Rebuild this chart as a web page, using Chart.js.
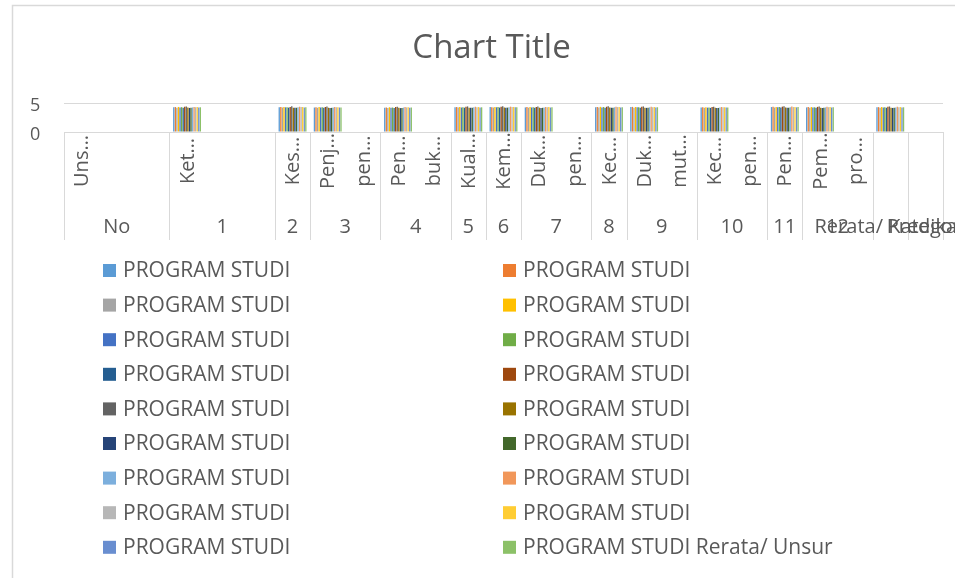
<!DOCTYPE html>
<html>
<head>
<meta charset="utf-8">
<script src="https://cdn.jsdelivr.net/npm/chart.js@4.4.1/dist/chart.umd.min.js"></script>
<style>
  html, body { margin: 0; padding: 0; background: #fff; }
  #wrap { width: 955px; height: 578px; position: relative; }
</style>
</head>
<body>
<div id="wrap"><canvas id="progChart"></canvas></div>
<script>
// category axis: lower level (leaf) labels and upper level groups
const leafLabels = ['Uns…', '', '', 'Ket…', '', '', 'Kes…', 'Penj…', 'pen…', 'Pen…', 'buk…', 'Kual…', 'Kem…',
  'Duk…', 'pen…', 'Kec…', 'Duk…', 'mut…', 'Kec…', 'pen…', 'Pen…', 'Pem…', 'pro…', '', ''];
const groupLabels = ['No', '1', '2', '3', '4', '5', '6', '7', '8', '9', '10', '11', '12', 'Rerata/ Kategori', 'Predikat'];
const groupSizes = [3, 3, 1, 2, 2, 1, 1, 2, 1, 2, 2, 1, 2, 1, 1];

// leaves that hold a score (unsur 1..12 and the rerata column)
const scoredLeaves = [3, 6, 7, 9, 11, 12, 13, 15, 16, 18, 20, 21, 23];

const yTicks = [0, 5];

const seriesNames = [
  'PROGRAM STUDI', 'PROGRAM STUDI', 'PROGRAM STUDI', 'PROGRAM STUDI', 'PROGRAM STUDI', 'PROGRAM STUDI',
  'PROGRAM STUDI', 'PROGRAM STUDI', 'PROGRAM STUDI', 'PROGRAM STUDI', 'PROGRAM STUDI', 'PROGRAM STUDI',
  'PROGRAM STUDI', 'PROGRAM STUDI', 'PROGRAM STUDI', 'PROGRAM STUDI', 'PROGRAM STUDI', 'PROGRAM STUDI Rerata/ Unsur'
];

// scores per program, one value per scored leaf
const prodi01 = [4.25, 4.28, 4.22, 4.20, 4.26, 4.30, 4.24, 4.27, 4.29, 4.21, 4.30, 4.24, 4.25];
const prodi02 = [4.30, 4.32, 4.27, 4.24, 4.30, 4.28, 4.31, 4.29, 4.33, 4.26, 4.35, 4.31, 4.29];
const prodi03 = [4.20, 4.22, 4.18, 4.15, 4.21, 4.22, 4.19, 4.23, 4.20, 4.17, 4.22, 4.20, 4.20];
const prodi04 = [4.32, 4.30, 4.29, 4.27, 4.33, 4.31, 4.30, 4.34, 4.31, 4.28, 4.33, 4.30, 4.31];
const prodi05 = [4.22, 4.25, 4.21, 4.19, 4.24, 4.26, 4.23, 4.22, 4.26, 4.20, 4.25, 4.22, 4.23];
const prodi06 = [4.28, 4.27, 4.25, 4.22, 4.27, 4.29, 4.26, 4.30, 4.28, 4.24, 4.29, 4.26, 4.27];
const prodi07 = [4.18, 4.20, 4.17, 4.14, 4.19, 4.21, 4.18, 4.20, 4.19, 4.16, 4.21, 4.18, 4.18];
const prodi08 = [4.35, 4.33, 4.31, 4.30, 4.34, 4.36, 4.33, 4.35, 4.34, 4.31, 4.37, 4.33, 4.34];
const prodi09 = [4.40, 4.42, 4.38, 4.36, 4.41, 4.43, 4.39, 4.42, 4.41, 4.37, 4.44, 4.40, 4.40];
const prodi10 = [4.21, 4.19, 4.18, 4.16, 4.20, 4.22, 4.19, 4.21, 4.20, 4.17, 4.23, 4.19, 4.20];
const prodi11 = [4.15, 4.17, 4.14, 4.12, 4.16, 4.18, 4.15, 4.17, 4.16, 4.13, 4.18, 4.15, 4.15];
const prodi12 = [4.19, 4.18, 4.16, 4.14, 4.18, 4.20, 4.17, 4.19, 4.18, 4.15, 4.20, 4.17, 4.18];
const prodi13 = [4.24, 4.26, 4.23, 4.21, 4.25, 4.27, 4.24, 4.26, 4.25, 4.22, 4.27, 4.24, 4.24];
const prodi14 = [4.33, 4.36, 4.32, 4.30, 4.35, 4.37, 4.33, 4.36, 4.35, 4.31, 4.38, 4.34, 4.34];
const prodi15 = [4.27, 4.29, 4.26, 4.24, 4.28, 4.30, 4.27, 4.29, 4.28, 4.25, 4.30, 4.27, 4.27];
const prodi16 = [4.30, 4.31, 4.28, 4.26, 4.30, 4.32, 4.29, 4.31, 4.30, 4.27, 4.32, 4.29, 4.30];
const prodi17 = [4.23, 4.24, 4.22, 4.20, 4.23, 4.25, 4.22, 4.24, 4.23, 4.21, 4.25, 4.22, 4.23];
const rerata = [4.26, 4.27, 4.24, 4.22, 4.26, 4.28, 4.25, 4.27, 4.27, 4.23, 4.29, 4.25, 4.26];

const seriesValues = [prodi01, prodi02, prodi03, prodi04, prodi05, prodi06, prodi07, prodi08, prodi09,
  prodi10, prodi11, prodi12, prodi13, prodi14, prodi15, prodi16, prodi17, rerata];

const seriesColors = ['#5B9BD5', '#ED7D31', '#A5A5A5', '#FFC000', '#4472C4', '#70AD47', '#255E91', '#9E480E', '#636363',
  '#997300', '#264478', '#43682B', '#7CAFDD', '#F1975A', '#B7B7B7', '#FFCD33', '#698ED0', '#8CC168'];

const textColor = '#595959';
const lineColor = '#D9D9D9';
const font = '"Open Sans", "Noto Sans", sans-serif';

// spread the 13 scores over the 25 leaf categories
const toLeaves = vals => leafLabels.map((_, i) => {
  const k = scoredLeaves.indexOf(i);
  return k < 0 ? null : vals[k];
});

const datasets = seriesValues.map((vals, i) => ({
  label: seriesNames[i],
  data: toLeaves(vals),
  backgroundColor: seriesColors[i],
  borderWidth: 0,
  categoryPercentage: 0.8,
  barPercentage: 0.85,
}));

// draws the outer frame, the two-level category axis and the legend
const excelBits = {
  id: 'excelBits',
  beforeDraw(chart) {
    const ctx = chart.ctx;
    ctx.save();
    ctx.strokeStyle = lineColor;
    ctx.lineWidth = 1.5;
    ctx.beginPath();
    ctx.moveTo(12.5, chart.height + 5);
    ctx.lineTo(12.5, 5.5);
    ctx.lineTo(chart.width + 5, 5.5);
    ctx.stroke();
    ctx.restore();
  },
  afterDraw(chart) {
    const ctx = chart.ctx;
    const x = chart.scales.x;
    const area = chart.chartArea;
    const n = leafLabels.length;
    const edge = i => {
      if (i <= 0) return area.left;
      if (i >= n) return area.right;
      return (x.getPixelForValue(i - 1) + x.getPixelForValue(i)) / 2;
    };

    ctx.save();
    // separators between groups
    ctx.strokeStyle = lineColor;
    ctx.lineWidth = 1;
    let start = 0;
    const bounds = [0];
    groupSizes.forEach(s => { start += s; bounds.push(start); });
    bounds.forEach(b => {
      const px = Math.round(edge(b)) + 0.5;
      ctx.beginPath();
      ctx.moveTo(px, area.bottom);
      ctx.lineTo(px, area.bottom + 108);
      ctx.stroke();
    });

    // leaf labels, rotated
    ctx.fillStyle = textColor;
    ctx.font = '20px ' + font;
    ctx.textAlign = 'center';
    ctx.textBaseline = 'middle';
    leafLabels.forEach((lab, i) => {
      if (!lab) return;
      ctx.save();
      ctx.translate(x.getPixelForValue(i), area.bottom + 29);
      ctx.rotate(-Math.PI / 2);
      ctx.fillText(lab, 0, 1);
      ctx.restore();
    });

    // group labels
    groupLabels.forEach((lab, g) => {
      const cx = (edge(bounds[g]) + edge(bounds[g + 1])) / 2;
      ctx.fillText(lab, cx, area.bottom + 95);
    });

    // legend, two columns
    ctx.font = '21px ' + font;
    chart.data.datasets.forEach((ds, i) => {
      const col = i % 2;
      const row = Math.floor(i / 2);
      const bx = col ? 503 : 103;
      const cy = 270.5 + row * 34.6;
      ctx.fillStyle = ds.backgroundColor;
      ctx.fillRect(bx, cy - 6.5, 13, 13);
      ctx.fillStyle = textColor;
      ctx.textAlign = 'left';
      ctx.fillText(ds.label, bx + 20, cy + 1);
    });
    ctx.restore();
  }
};

const ctx = document.getElementById('progChart').getContext('2d');
new Chart(ctx, {
  type: 'bar',
  data: {
    labels: leafLabels,
    datasets: datasets,
  },
  options: {
    responsive: true,
    maintainAspectRatio: false,
    animation: false,
    devicePixelRatio: 1,
    layout: { padding: { left: 40, right: 12, top: 0, bottom: 0 } },
    plugins: {
      legend: { display: false },
      tooltip: { enabled: false },
      title: {
        display: true,
        text: 'Chart Title',
        color: textColor,
        font: { family: font, size: 33, weight: 'normal' },
        padding: { top: 29, bottom: 34.4 },
      },
    },
    scales: {
      x: {
        grid: { display: false },
        border: { display: true, color: lineColor, width: 1 },
        ticks: { display: false },
        afterFit: s => { s.height = 446; },
      },
      y: {
        min: yTicks[0],
        max: yTicks[yTicks.length - 1],
        afterBuildTicks: s => { s.ticks = yTicks.map(v => ({ value: v })); },
        grid: { color: lineColor, lineWidth: 1, drawTicks: false },
        border: { display: false },
        // mirrored so the labels are not clipped to the narrow axis box
        ticks: { color: textColor, font: { family: font, size: 18 }, mirror: true, padding: -34, labelOffset: 3 },
        afterFit: s => { s.width = 24; },
      },
    },
  },
  plugins: [excelBits],
});
</script>
</body>
</html>
